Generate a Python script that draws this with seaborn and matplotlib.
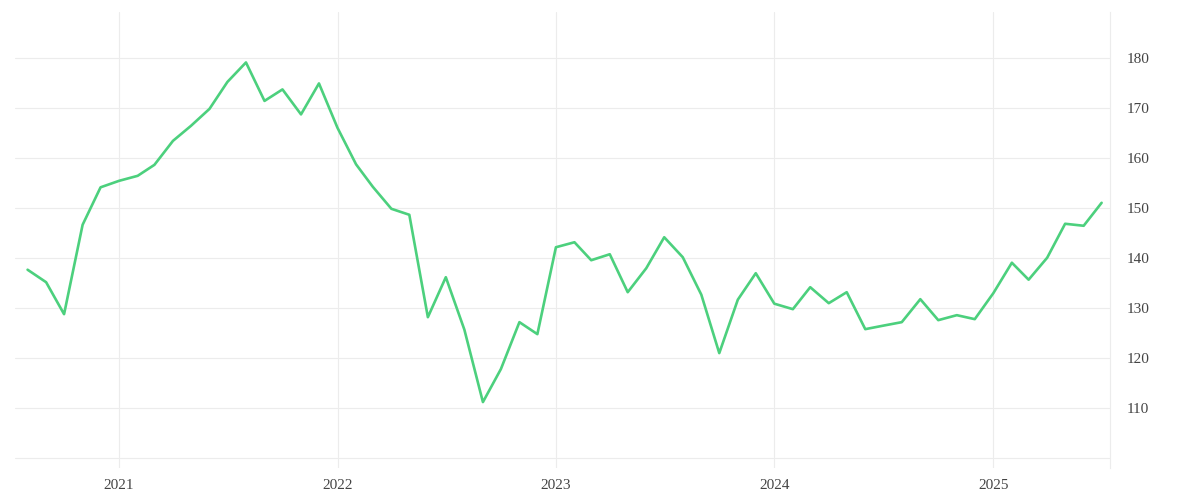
import pandas as pd
import matplotlib.pyplot as plt
import matplotlib.dates as mdates
import seaborn as sns

# monthly index values, Aug 2020 .. Jul 2025
START = "2020-08-01"
values = [
    137.7, 135.2, 128.8, 146.7, 154.2,
    155.5, 156.5, 158.7, 163.5, 166.5, 169.9, 175.3, 179.2, 171.5, 173.8, 168.8, 175.0,
    166.1, 158.8, 154.3, 149.9, 148.7, 128.2, 136.2, 125.7, 111.2, 117.8, 127.2, 124.8,
    142.2, 143.2, 139.6, 140.8, 133.2, 138.0, 144.2, 140.2, 132.7, 121.0, 131.7, 137.0,
    130.9, 129.8, 134.2, 131.0, 133.2, 125.8, 126.5, 127.2, 131.8, 127.6, 128.6, 127.8,
    133.0, 139.1, 135.7, 140.1, 146.9, 146.5, 151.1,
]
y_ticks = [110, 120, 130, 140, 150, 160, 170, 180]
year_ticks = ["2021", "2022", "2023", "2024", "2025"]

df = pd.DataFrame({
    "date": pd.date_range(START, periods=len(values), freq="MS"),
    "value": values,
})

LINE_COL = "#4cd07d"
GRID_COL = "#ececec"
TEXT_COL = "#444444"

sns.set_style("white")
plt.rcParams["font.family"] = ["Liberation Serif", "DejaVu Serif"]

fig = plt.figure(figsize=(12, 5), dpi=100)
ax = fig.add_axes([0.0125, 0.064, 0.9125, 0.912])

sns.lineplot(data=df, x="date", y="value", ax=ax, color=LINE_COL,
             linewidth=1.9, zorder=3)

ax.set_xlim(pd.Timestamp("2020-07-11"), pd.Timestamp("2025-07-15"))
ax.set_ylim(98.0, 189.3)

ax.xaxis.set_major_locator(mdates.YearLocator())
ax.xaxis.set_major_formatter(mdates.DateFormatter("%Y"))
ax.set_yticks(y_ticks)
ax.yaxis.tick_right()

# horizontal grid incl. the unlabeled 100 line
for v in [100] + y_ticks:
    ax.axhline(v, color=GRID_COL, linewidth=0.8, zorder=1)
for yr in year_ticks:
    ax.axvline(pd.Timestamp(f"{yr}-01-01"), color=GRID_COL, linewidth=0.8, zorder=1)

for side in ["left", "top", "bottom"]:
    ax.spines[side].set_visible(False)
ax.spines["right"].set_color(GRID_COL)
ax.spines["right"].set_linewidth(0.8)

ax.tick_params(axis="both", length=0, labelsize=11, labelcolor=TEXT_COL)
ax.tick_params(axis="y", pad=12)
ax.tick_params(axis="x", pad=8)
ax.set_xlabel("")
ax.set_ylabel("")

fig.savefig("out.png", dpi=100, facecolor="white")
